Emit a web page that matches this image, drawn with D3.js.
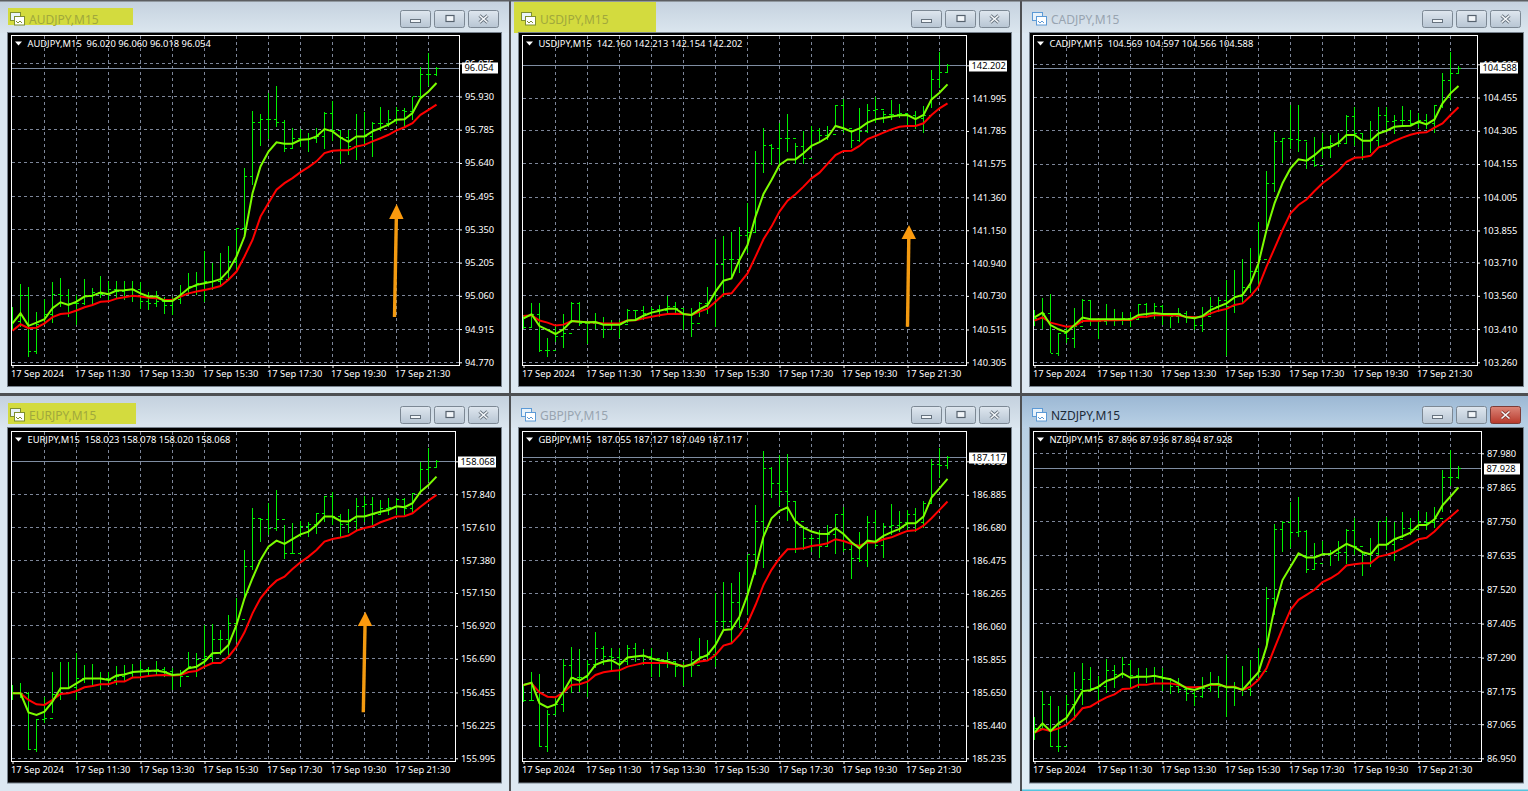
<!DOCTYPE html>
<html><head><meta charset="utf-8">
<script src="https://cdnjs.cloudflare.com/ajax/libs/d3/7.8.5/d3.min.js"></script>
<style>html,body{margin:0;padding:0;background:#4d4f52;overflow:hidden}svg{display:block}text{font-family:"Noto Sans","Open Sans",sans-serif}</style>
</head><body><svg id="c" width="1528" height="791"></svg>
<script>
const dateLabels=['17 Sep 2024','17 Sep 11:30','17 Sep 13:30','17 Sep 15:30','17 Sep 17:30','17 Sep 19:30','17 Sep 21:30'];
const audTicks=[94.770,94.915,95.060,95.205,95.350,95.495,95.640,95.785,95.930,96.075];
const usdTicks=[140.305,140.515,140.730,140.940,141.150,141.360,141.575,141.785,141.995,142.205];
const cadTicks=[103.260,103.410,103.560,103.710,103.855,104.005,104.155,104.305,104.455,104.605];
const eurTicks=[155.995,156.225,156.455,156.690,156.920,157.150,157.380,157.610,157.840,158.070];
const gbpTicks=[185.235,185.440,185.650,185.855,186.060,186.265,186.475,186.680,186.885,187.095];
const nzdTicks=[86.950,87.065,87.175,87.290,87.405,87.520,87.635,87.750,87.865,87.980];

const audHigh=[95.013,95.112,95.098,94.991,95.047,95.119,95.137,95.089,95.064,95.134,95.093,95.147,95.125,95.125,95.125,95.125,95.119,95.079,95.083,95.057,95.057,95.108,95.159,95.162,95.256,95.202,95.249,95.278,95.355,95.617,95.868,95.853,95.945,95.977,95.829,95.792,95.788,95.770,95.792,95.862,95.910,95.778,95.785,95.855,95.862,95.818,95.884,95.872,95.884,95.879,95.930,96.059,96.120,96.060];
const audLow=[94.911,94.926,94.795,94.806,94.940,94.940,95.013,94.969,94.933,95.020,95.020,95.050,95.042,95.050,95.042,95.035,95.002,94.999,95.013,94.981,94.977,95.025,95.064,95.064,95.035,95.086,95.101,95.130,95.173,95.326,95.542,95.715,95.744,95.799,95.690,95.700,95.709,95.690,95.727,95.702,95.738,95.635,95.676,95.651,95.712,95.668,95.778,95.796,95.811,95.792,95.829,95.923,95.978,96.018];
const audClose=[94.948,95.060,94.817,94.933,94.977,95.064,95.061,95.028,95.028,95.057,95.076,95.064,95.086,95.079,95.089,95.086,95.035,95.028,95.035,95.020,95.042,95.071,95.103,95.115,95.122,95.122,95.130,95.210,95.355,95.581,95.817,95.829,95.829,95.817,95.705,95.746,95.744,95.748,95.756,95.855,95.782,95.753,95.712,95.756,95.756,95.814,95.814,95.829,95.869,95.865,95.930,96.025,96.025,96.054];
const audFast=[94.940,94.984,94.929,94.943,94.958,95.006,95.032,95.020,95.035,95.057,95.061,95.074,95.067,95.083,95.084,95.089,95.071,95.057,95.057,95.038,95.038,95.064,95.093,95.108,95.115,95.122,95.133,95.170,95.232,95.319,95.508,95.625,95.690,95.730,95.724,95.724,95.741,95.743,95.756,95.788,95.778,95.751,95.732,95.756,95.756,95.778,95.792,95.807,95.829,95.831,95.858,95.923,95.952,95.989];
const audSlow=[94.908,94.936,94.919,94.921,94.940,94.967,94.981,94.984,94.996,95.010,95.020,95.034,95.036,95.048,95.054,95.060,95.057,95.052,95.050,95.042,95.042,95.057,95.071,95.079,95.086,95.093,95.103,95.130,95.166,95.232,95.304,95.406,95.465,95.523,95.552,95.574,95.600,95.622,95.647,95.683,95.693,95.695,95.695,95.712,95.719,95.734,95.748,95.763,95.782,95.796,95.814,95.850,95.872,95.895];

const usdHigh=[140.608,140.682,140.687,140.459,140.537,140.612,140.689,140.689,140.565,140.618,140.597,140.576,140.576,140.644,140.640,140.665,140.661,140.672,140.731,140.693,140.650,140.650,140.693,140.785,141.092,141.113,141.139,141.168,141.326,141.657,141.802,141.701,141.834,141.893,141.706,141.787,141.817,141.802,141.817,141.951,141.989,141.791,141.934,141.957,142.000,141.913,141.983,141.955,141.887,141.915,141.945,142.175,142.288,142.213];
const usdLow=[140.516,140.522,140.373,140.341,140.437,140.399,140.559,140.537,140.422,140.516,140.463,140.512,140.463,140.554,140.572,140.576,140.593,140.597,140.614,140.608,140.512,140.469,140.593,140.614,140.533,140.725,140.853,140.874,141.002,141.130,141.518,141.567,141.561,141.652,141.574,141.574,141.663,141.706,141.727,141.808,141.770,141.674,141.716,141.770,141.834,141.834,141.855,141.866,141.823,141.795,141.770,141.930,142.057,142.154];
const usdClose=[140.529,140.608,140.380,140.380,140.469,140.490,140.682,140.554,140.554,140.554,140.512,140.544,140.544,140.635,140.635,140.618,140.640,140.635,140.661,140.650,140.608,140.554,140.682,140.682,140.928,140.964,140.960,141.119,141.134,141.574,141.695,141.674,141.738,141.738,141.684,141.610,141.791,141.759,141.765,141.951,141.802,141.727,141.780,141.919,141.923,141.893,141.893,141.898,141.881,141.866,141.887,142.115,142.160,142.202];
const usdFast=[140.586,140.612,140.537,140.512,140.486,140.516,140.569,140.565,140.561,140.563,140.546,140.546,140.546,140.572,140.576,140.603,140.623,140.635,140.648,140.648,140.614,140.608,140.644,140.670,140.757,140.827,140.842,140.960,141.055,141.237,141.382,141.471,141.567,141.603,141.603,141.642,141.689,141.714,141.744,141.817,141.802,141.780,141.802,141.838,141.859,141.868,141.878,141.885,141.887,141.861,141.887,141.987,142.030,142.083];
const usdSlow=[140.601,140.606,140.572,140.559,140.540,140.546,140.569,140.565,140.561,140.559,140.554,140.554,140.554,140.572,140.574,140.586,140.597,140.606,140.614,140.616,140.614,140.608,140.629,140.648,140.693,140.740,140.746,140.810,140.874,140.981,141.092,141.173,141.269,141.339,141.380,141.429,141.482,141.518,141.574,141.631,141.657,141.659,141.689,141.733,141.753,141.774,141.795,141.812,141.817,141.817,141.834,141.887,141.930,141.962];

const cadHigh=[103.496,103.549,103.568,103.391,103.424,103.504,103.544,103.538,103.459,103.522,103.501,103.489,103.489,103.523,103.526,103.526,103.519,103.466,103.504,103.493,103.466,103.511,103.556,103.556,103.631,103.677,103.725,103.774,103.895,104.123,104.301,104.274,104.421,104.421,104.256,104.278,104.293,104.286,104.293,104.376,104.411,104.293,104.349,104.411,104.411,104.376,104.418,104.399,104.386,104.380,104.421,104.564,104.659,104.597];
const cadLow=[103.424,103.409,103.301,103.289,103.349,103.323,103.436,103.424,103.365,103.428,103.424,103.428,103.421,103.451,103.459,103.454,103.428,103.413,103.439,103.436,103.406,103.398,103.474,103.489,103.290,103.484,103.526,103.571,103.609,103.842,104.030,104.161,104.221,104.211,104.131,104.143,104.180,104.183,104.233,104.248,104.236,104.173,104.203,104.226,104.301,104.289,104.320,104.326,104.316,104.311,104.296,104.406,104.444,104.566];
const cadClose=[103.459,103.481,103.301,103.391,103.368,103.421,103.541,103.454,103.443,103.454,103.451,103.459,103.451,103.519,103.481,103.511,103.481,103.466,103.481,103.466,103.428,103.466,103.511,103.541,103.511,103.556,103.598,103.669,103.722,104.068,104.256,104.271,104.266,104.263,104.173,104.146,104.226,104.248,104.248,104.368,104.293,104.263,104.260,104.376,104.346,104.353,104.353,104.338,104.353,104.338,104.417,104.531,104.564,104.588];
const cadFast=[103.463,103.484,103.428,103.409,103.395,103.428,103.462,103.454,103.454,103.454,103.454,103.454,103.454,103.474,103.478,103.483,103.478,103.478,103.478,103.463,103.459,103.469,103.496,103.511,103.526,103.553,103.564,103.616,103.707,103.857,103.977,104.068,104.135,104.176,104.170,104.195,104.226,104.233,104.251,104.286,104.286,104.260,104.260,104.293,104.305,104.323,104.326,104.328,104.346,104.334,104.356,104.429,104.474,104.507];
const cadSlow=[103.448,103.463,103.439,103.430,103.421,103.424,103.446,103.448,103.448,103.450,103.450,103.451,103.451,103.465,103.466,103.472,103.474,103.471,103.471,103.466,103.463,103.466,103.481,103.493,103.501,103.519,103.526,103.559,103.601,103.692,103.774,103.857,103.932,103.970,103.995,104.033,104.068,104.095,104.125,104.165,104.183,104.185,104.192,104.230,104.241,104.259,104.274,104.287,104.296,104.298,104.319,104.338,104.376,104.411];

const eurHigh=[156.507,156.519,156.461,156.270,156.426,156.596,156.666,156.666,156.729,156.647,156.652,156.601,156.596,156.642,156.647,156.652,156.677,156.635,156.675,156.635,156.624,156.612,156.740,156.729,156.927,156.931,156.892,156.996,157.113,157.451,157.742,157.667,157.777,157.870,157.625,157.637,157.653,157.644,157.707,157.828,157.858,157.702,157.737,157.812,157.828,157.823,157.800,157.816,157.816,157.812,157.847,158.063,158.161,158.078];
const eurLow=[156.403,156.414,156.053,156.037,156.240,156.309,156.403,156.489,156.403,156.519,156.496,156.472,156.507,156.507,156.531,156.554,156.554,156.566,156.577,156.566,156.472,156.496,156.624,156.566,156.624,156.659,156.717,156.717,156.810,157.113,157.311,157.509,157.555,157.586,157.388,157.420,157.544,157.544,157.560,157.644,157.625,157.544,157.567,157.590,157.644,157.625,157.695,157.695,157.695,157.695,157.714,157.851,157.928,158.020];
const eurClose=[156.449,156.449,156.053,156.263,156.274,156.438,156.484,156.489,156.554,156.554,156.554,156.554,156.542,156.566,156.589,156.601,156.612,156.601,156.612,156.601,156.577,156.566,156.635,156.682,156.705,156.822,156.822,156.938,156.962,157.334,157.667,157.660,157.602,157.660,157.427,157.427,157.614,157.625,157.702,157.823,157.684,157.625,157.649,157.753,157.765,157.695,157.737,157.746,157.800,157.742,157.842,158.010,158.028,158.068];
const eurFast=[156.449,156.449,156.316,156.298,156.321,156.391,156.484,156.484,156.519,156.552,156.552,156.552,156.542,156.573,156.580,156.598,156.601,156.605,156.608,156.598,156.577,156.582,156.624,156.635,156.670,156.729,156.733,156.787,156.927,157.113,157.253,157.381,157.474,157.516,157.493,157.527,157.560,157.579,157.625,157.684,157.684,157.653,157.649,157.684,157.684,157.702,157.718,157.730,157.756,157.749,157.777,157.858,157.905,157.963];
const eurSlow=[156.449,156.449,156.403,156.372,156.368,156.403,156.444,156.449,156.465,156.491,156.500,156.512,156.512,156.531,156.531,156.559,156.561,156.570,156.575,156.577,156.573,156.577,156.598,156.605,156.635,156.661,156.661,156.705,156.775,156.875,157.008,157.113,157.183,157.236,157.264,157.318,157.364,157.404,157.451,157.509,157.527,157.537,157.551,157.586,157.604,157.616,157.644,157.663,157.684,157.686,157.707,157.753,157.795,157.835];

const gbpHigh=[185.694,185.778,185.765,185.538,185.611,185.855,185.930,185.920,185.851,186.024,185.941,185.924,185.924,185.945,185.955,185.920,185.928,185.841,185.903,185.841,185.841,185.907,185.987,185.976,186.269,186.337,186.331,186.400,186.509,186.822,187.160,187.062,187.135,187.139,186.847,186.692,186.634,186.665,186.697,186.763,186.811,186.571,186.655,186.755,186.791,186.707,186.826,186.784,186.791,186.801,186.849,187.110,187.177,187.127];
const gbpLow=[185.590,185.596,185.308,185.273,185.511,185.527,185.642,185.653,185.621,185.799,185.820,185.778,185.726,185.820,185.841,185.820,185.747,185.747,185.799,185.747,185.690,185.747,185.841,185.851,185.805,186.039,185.955,186.049,186.133,186.383,186.425,186.868,186.818,186.722,186.519,186.540,186.525,186.492,186.561,186.515,186.525,186.356,186.467,186.436,186.550,186.492,186.634,186.655,186.665,186.655,186.680,186.832,186.989,187.049];
const gbpClose=[185.600,185.600,185.308,185.511,185.569,185.815,185.740,185.740,185.820,185.924,185.872,185.866,185.841,185.924,185.872,185.872,185.857,185.845,185.841,185.809,185.815,185.815,185.872,185.882,186.091,186.091,186.212,186.049,186.509,186.717,187.052,186.958,186.905,186.843,186.717,186.613,186.613,186.561,186.634,186.759,186.540,186.484,186.471,186.713,186.565,186.686,186.692,186.713,186.763,186.713,186.832,187.072,187.068,187.117];
const gbpFast=[185.694,185.709,185.580,185.554,185.573,185.653,185.740,185.722,185.753,185.820,185.841,185.849,185.820,185.866,185.872,185.878,185.861,185.847,185.841,185.826,185.809,185.824,185.861,185.882,185.945,186.039,186.043,186.122,186.258,186.425,186.624,186.738,186.784,186.807,186.717,186.680,186.655,186.642,186.640,186.676,186.640,186.588,186.550,186.598,186.592,186.628,186.651,186.672,186.707,186.707,186.749,186.868,186.926,186.985];
const gbpSlow=[185.694,185.705,185.648,185.621,185.617,185.648,185.694,185.699,185.715,185.757,185.774,185.782,185.786,185.809,185.820,185.832,185.832,185.832,185.832,185.824,185.813,185.820,185.841,185.847,185.882,185.941,185.955,186.008,186.081,186.195,186.321,186.415,186.488,186.544,186.546,186.550,186.565,186.571,186.582,186.607,186.596,186.578,186.565,186.588,186.586,186.607,186.619,186.640,186.659,186.663,186.692,186.738,186.791,186.843];

const nzdHigh=[87.091,87.177,87.161,87.125,87.164,87.241,87.271,87.260,87.228,87.286,87.265,87.293,87.282,87.256,87.254,87.257,87.254,87.220,87.222,87.192,87.184,87.226,87.241,87.229,87.299,87.209,87.262,87.282,87.324,87.530,87.740,87.752,87.814,87.832,87.721,87.676,87.684,87.654,87.684,87.724,87.761,87.648,87.695,87.749,87.766,87.749,87.781,87.761,87.785,87.781,87.797,87.924,87.992,87.936];
const nzdLow=[87.012,87.051,86.989,86.970,87.079,87.079,87.130,87.181,87.141,87.170,87.186,87.220,87.186,87.186,87.203,87.203,87.177,87.166,87.170,87.145,87.128,87.153,87.175,87.155,87.091,87.125,87.162,87.162,87.220,87.322,87.434,87.648,87.659,87.699,87.575,87.586,87.635,87.601,87.617,87.605,87.637,87.564,87.597,87.635,87.654,87.617,87.693,87.704,87.721,87.721,87.727,87.781,87.868,87.894];
const nzdClose=[87.051,87.130,86.989,86.989,87.130,87.181,87.215,87.186,87.192,87.248,87.232,87.268,87.229,87.226,87.226,87.226,87.203,87.192,87.184,87.170,87.158,87.186,87.203,87.192,87.192,87.186,87.184,87.215,87.243,87.490,87.721,87.747,87.713,87.716,87.586,87.609,87.642,87.642,87.646,87.719,87.665,87.637,87.642,87.749,87.673,87.688,87.727,87.724,87.747,87.747,87.761,87.898,87.898,87.928];
const nzdFast=[87.037,87.068,87.042,87.068,87.087,87.130,87.177,87.180,87.192,87.211,87.220,87.237,87.222,87.225,87.225,87.229,87.222,87.217,87.203,87.186,87.181,87.190,87.200,87.201,87.190,87.190,87.181,87.211,87.241,87.327,87.457,87.552,87.597,87.642,87.628,87.628,87.639,87.640,87.657,87.674,87.663,87.646,87.639,87.671,87.671,87.690,87.700,87.712,87.738,87.738,87.757,87.804,87.834,87.865];
const nzdSlow=[87.037,87.049,87.042,87.051,87.063,87.087,87.119,87.125,87.141,87.156,87.166,87.184,87.186,87.198,87.198,87.203,87.203,87.203,87.198,87.190,87.190,87.192,87.198,87.198,87.192,87.192,87.181,87.192,87.215,87.254,87.322,87.389,87.451,87.485,87.502,87.519,87.545,87.558,87.575,87.601,87.605,87.609,87.609,87.631,87.637,87.646,87.659,87.673,87.690,87.695,87.716,87.744,87.766,87.789];

// Window and plot frames (layout only)
const panels=[
 {sym:'AUDJPY',ohlc:'96.020 96.060 96.018 96.054',digits:96.054,ticks:audTicks,h:audHigh,l:audLow,c:audClose,f:audFast,s:audSlow,
  wx:0,wy:0,ww:509,wh:393,left:12,right:459,top:35.5,bottom:365,yLow:362.3,yHigh:63.3,blackR:501,btnX:400,
  mark:[8,8,125,17],arrow:[394.5,317,396.6,204,219]},
 {sym:'USDJPY',ohlc:'142.160 142.213 142.154 142.202',digits:142.202,ticks:usdTicks,h:usdHigh,l:usdLow,c:usdClose,f:usdFast,s:usdSlow,
  wx:511,wy:0,ww:509,wh:393,left:523,right:966,top:35.5,bottom:365,yLow:362.3,yHigh:65.3,blackR:1011,btnX:911,
  mark:[514,2,142,31],arrow:[907.5,326.7,909,225,239]},
 {sym:'CADJPY',ohlc:'104.569 104.597 104.566 104.588',digits:104.588,ticks:cadTicks,h:cadHigh,l:cadLow,c:cadClose,f:cadFast,s:cadSlow,
  wx:1022,wy:0,ww:506,wh:393,left:1034,right:1477,top:35.5,bottom:365,yLow:362.3,yHigh:64.3,blackR:1523,btnX:1422},
 {sym:'EURJPY',ohlc:'158.023 158.078 158.020 158.068',digits:158.068,ticks:eurTicks,h:eurHigh,l:eurLow,c:eurClose,f:eurFast,s:eurSlow,
  wx:0,wy:396,ww:509,wh:395,left:12,right:455,top:431.5,bottom:761,yLow:758.3,yHigh:461.3,blackR:501,btnX:400,
  mark:[8,403,128,21],arrow:[363.3,712.3,365.3,611.7,626]},
 {sym:'GBPJPY',ohlc:'187.055 187.127 187.049 187.117',digits:187.117,ticks:gbpTicks,h:gbpHigh,l:gbpLow,c:gbpClose,f:gbpFast,s:gbpSlow,
  wx:511,wy:396,ww:509,wh:395,left:523,right:966,top:431.5,bottom:761,yLow:758.3,yHigh:461.3,blackR:1011,btnX:911},
 {sym:'NZDJPY',ohlc:'87.896 87.936 87.894 87.928',digits:87.928,ticks:nzdTicks,h:nzdHigh,l:nzdLow,c:nzdClose,f:nzdFast,s:nzdSlow,
  wx:1022,wy:396,ww:506,wh:395,left:1034,right:1481,top:431.5,bottom:761,yLow:758.3,yHigh:453.3,blackR:1523,btnX:1422,active:true}
];

const svg=d3.select('#c');
const defs=svg.append('defs');
const grad=(id,a,b)=>{const g=defs.append('linearGradient').attr('id',id).attr('x2',0).attr('y2',1);
  g.append('stop').attr('offset',0).attr('stop-color',a);g.append('stop').attr('offset',1).attr('stop-color',b);};
grad('tb','#c4d1de','#dbe6ef');grad('tba','#9cb8d4','#b9d1e6');grad('btn','#dfe7ef','#b7c5d3');
grad('btnr','#dc8679','#b8392b');grad('fra','#b5cde2','#e2eef6');

panels.forEach(p=>{
  const g=svg.append('g');
  const titleH=p.wy?32:33;
  // window frame
  g.append('rect').attr('x',p.wx).attr('y',p.wy).attr('width',p.ww).attr('height',p.wh)
    .attr('fill',p.active?'url(#fra)':'#dce8f2');
  g.append('rect').attr('x',p.wx).attr('y',p.wy).attr('width',p.ww).attr('height',titleH)
    .attr('fill',p.active?'url(#tba)':'url(#tb)');
  if(p.active) g.append('rect').attr('x',p.wx).attr('y',p.wy+p.wh-1.5).attr('width',p.ww).attr('height',1.5).attr('fill','#55c4de');
  if(p.mark) g.append('rect').attr('x',p.mark[0]).attr('y',p.mark[1]).attr('width',p.mark[2]).attr('height',p.mark[3]).attr('fill','#d3db3e');
  // icon
  const ix=p.wx+10, iy=p.wy+12, ic=p.mark?'#7f8f30':'#5c9ad6';
  g.append('rect').attr('x',ix+.5).attr('y',iy+.5).attr('width',10).attr('height',8).attr('fill','#e8f2fa').attr('stroke',ic);
  g.append('rect').attr('x',ix+4.5).attr('y',iy+4.5).attr('width',10).attr('height',8.5).attr('fill','#ffffff').attr('stroke',ic);
  g.append('path').attr('d',`M${ix+6},${iy+9}l2,2l2,-2l2,2`).attr('fill','none').attr('stroke',ic);
  // title
  g.append('text').attr('x',p.wx+29).attr('y',p.wy+(p.wy?24:23.5)).attr('font-size',12)
    .attr('fill',p.active?'#1c2a38':(p.mark?'#a0a83c':'#98a4b0')).text(p.sym+',M15');
  // buttons
  const by=p.wy+10;
  [0,34,68].forEach((dx,k)=>{
    const red=p.active&&k===2, x=p.btnX+dx;
    g.append('rect').attr('x',x+.5).attr('y',by+.5).attr('width',30).attr('height',17).attr('rx',2)
      .attr('fill',red?'url(#btnr)':'url(#btn)').attr('stroke',red?'#7d3b36':'#7c8894');
    const cx=x+15.5, cy=by+9;
    if(k===0) g.append('rect').attr('x',cx-5).attr('y',cy+.5).attr('width',10).attr('height',3).attr('fill','#f2f6f9').attr('stroke','#66727e');
    if(k===1) g.append('rect').attr('x',cx-3.5).attr('y',cy-3.5).attr('width',8).attr('height',6).attr('fill','#f2f6f9').attr('stroke','#56626e').attr('stroke-width',1.2);
    if(k===2){
      const d=`M${cx-4},${cy-3.5}L${cx+4},${cy+3.5}M${cx+4},${cy-3.5}L${cx-4},${cy+3.5}`;
      g.append('path').attr('d',d).attr('stroke',red?'#8a3a30':'#66727e').attr('stroke-width',3.2);
      g.append('path').attr('d',d).attr('stroke','#f4f7fa').attr('stroke-width',1.6);
    }
  });
  // client black area
  const bl=p.wx+8, bt=p.wy+titleH, br=p.blackR, bh=p.wy?354.5:353;
  g.append('rect').attr('x',bl-1).attr('y',bt-1).attr('width',br-bl+2).attr('height',bh+2).attr('fill','#77818c');
  g.append('rect').attr('x',bl).attr('y',bt).attr('width',br-bl).attr('height',bh).attr('fill','#000');

  // scales
  const x=d3.scaleLinear().domain([0,1]).range([p.left+.5,p.left+8.5]);
  const y=d3.scaleLinear().domain([p.ticks[0],p.ticks[p.ticks.length-1]]).range([p.yLow,p.yHigh]);
  const n=p.c.length, crisp=v=>Math.floor(v)+.5;

  // grid
  const grid=g.append('g').attr('stroke','#7d8699').attr('stroke-dasharray','3,3').attr('shape-rendering','crispEdges').attr('fill','none');
  const vIdx=d3.range(4,(p.right-p.left)/8,4);
  grid.selectAll('.v').data(vIdx).join('line').attr('x1',d=>x(d)).attr('x2',d=>x(d)).attr('y1',p.top).attr('y2',p.bottom);
  grid.selectAll('.h').data(p.ticks).join('line').attr('x1',p.left).attr('x2',p.right).attr('y1',d=>crisp(y(d))).attr('y2',d=>crisp(y(d)));

  // current price line
  g.append('line').attr('x1',p.left).attr('x2',p.right).attr('y1',crisp(y(p.digits))).attr('y2',crisp(y(p.digits)))
    .attr('stroke','#7f8da2').attr('shape-rendering','crispEdges');

  // OHLC bars
  const bars=g.append('g').attr('stroke','#00f000').attr('shape-rendering','crispEdges');
  const idx=d3.range(n);
  bars.selectAll('.hl').data(idx).join('line').attr('x1',i=>x(i)).attr('x2',i=>x(i)).attr('y1',i=>y(p.h[i])).attr('y2',i=>y(p.l[i]));
  bars.selectAll('.cl').data(idx).join('line').attr('x1',i=>x(i)).attr('x2',i=>x(i)+2.5).attr('y1',i=>crisp(y(p.c[i]))).attr('y2',i=>crisp(y(p.c[i])));
  bars.selectAll('.op').data(idx.slice(1)).join('line').attr('x1',i=>x(i)-2.5).attr('x2',i=>x(i)).attr('y1',i=>crisp(y(p.c[i-1]))).attr('y2',i=>crisp(y(p.c[i-1])));

  // averages
  const line=a=>d3.line().x((d,i)=>x(i)).y(d=>y(d))(a);
  g.append('path').attr('d',line(p.s)).attr('fill','none').attr('stroke','#ff0000').attr('stroke-width',2);
  g.append('path').attr('d',line(p.f)).attr('fill','none').attr('stroke','#7cfc00').attr('stroke-width',2);

  // frame
  g.append('rect').attr('x',p.left-.5).attr('y',p.top).attr('width',p.right-p.left+.5).attr('height',p.bottom-p.top)
    .attr('fill','none').attr('stroke','#fff').attr('shape-rendering','crispEdges');

  // price axis
  const ya=g.append('g').attr('transform',`translate(${p.right},0)`)
    .call(d3.axisRight(y).tickValues(p.ticks).tickSize(3).tickPadding(3).tickFormat(d3.format('.3f')));
  ya.select('.domain').remove();
  ya.selectAll('line').attr('stroke','#fff');
  ya.selectAll('text').attr('fill','#fff').attr('font-size',9.3).attr('font-family','"Noto Sans"');

  // current price box
  const cy=y(p.digits);
  g.append('rect').attr('x',p.right+3).attr('y',Math.round(cy)-5.5).attr('width',p.digits>=100?38:36).attr('height',11).attr('fill','#fff');
  g.append('text').attr('x',p.right+5.5).attr('y',cy+3.3).attr('font-size',9.3).attr('fill','#000').text(d3.format('.3f')(p.digits));

  // time axis
  const xa=g.append('g').attr('transform',`translate(0,${p.bottom})`)
    .call(d3.axisBottom(x).tickValues(dateLabels.map((d,i)=>i*8)).tickSize(3).tickPadding(2.5).tickFormat((d,i)=>dateLabels[i]));
  xa.select('.domain').remove();
  xa.selectAll('line').attr('stroke','#fff');
  xa.selectAll('text').attr('fill','#fff').attr('font-size',9.3).attr('text-anchor','start').attr('x',-2).attr('font-family','"Noto Sans"');

  // header
  g.append('path').attr('d',`M${p.left+3},${p.top+6}h7l-3.5,4z`).attr('fill','#fff');
  g.append('text').attr('x',p.left+15.5).attr('y',p.top+11.3).attr('font-size',9.35).attr('fill','#fff')
    .style('white-space','pre').text(`${p.sym},M15  ${p.ohlc}`);

  // annotation arrow
  if(p.arrow){
    const [x0,y0,x1,y1,yb]=p.arrow, t=(yb-y0)/(y1-y0), xb=x0+(x1-x0)*t;
    g.append('line').attr('x1',x0).attr('y1',y0).attr('x2',xb).attr('y2',yb).attr('stroke','#f39a10').attr('stroke-width',3.4);
    g.append('path').attr('d',`M${x1},${y1}L${xb+7.2},${yb}L${xb-7.2},${yb}Z`).attr('fill','#fb9a0e');
  }
});
svg.append('rect').attr('width',1528).attr('height',1.5).attr('fill','#5c5e61');
</script></body></html>
